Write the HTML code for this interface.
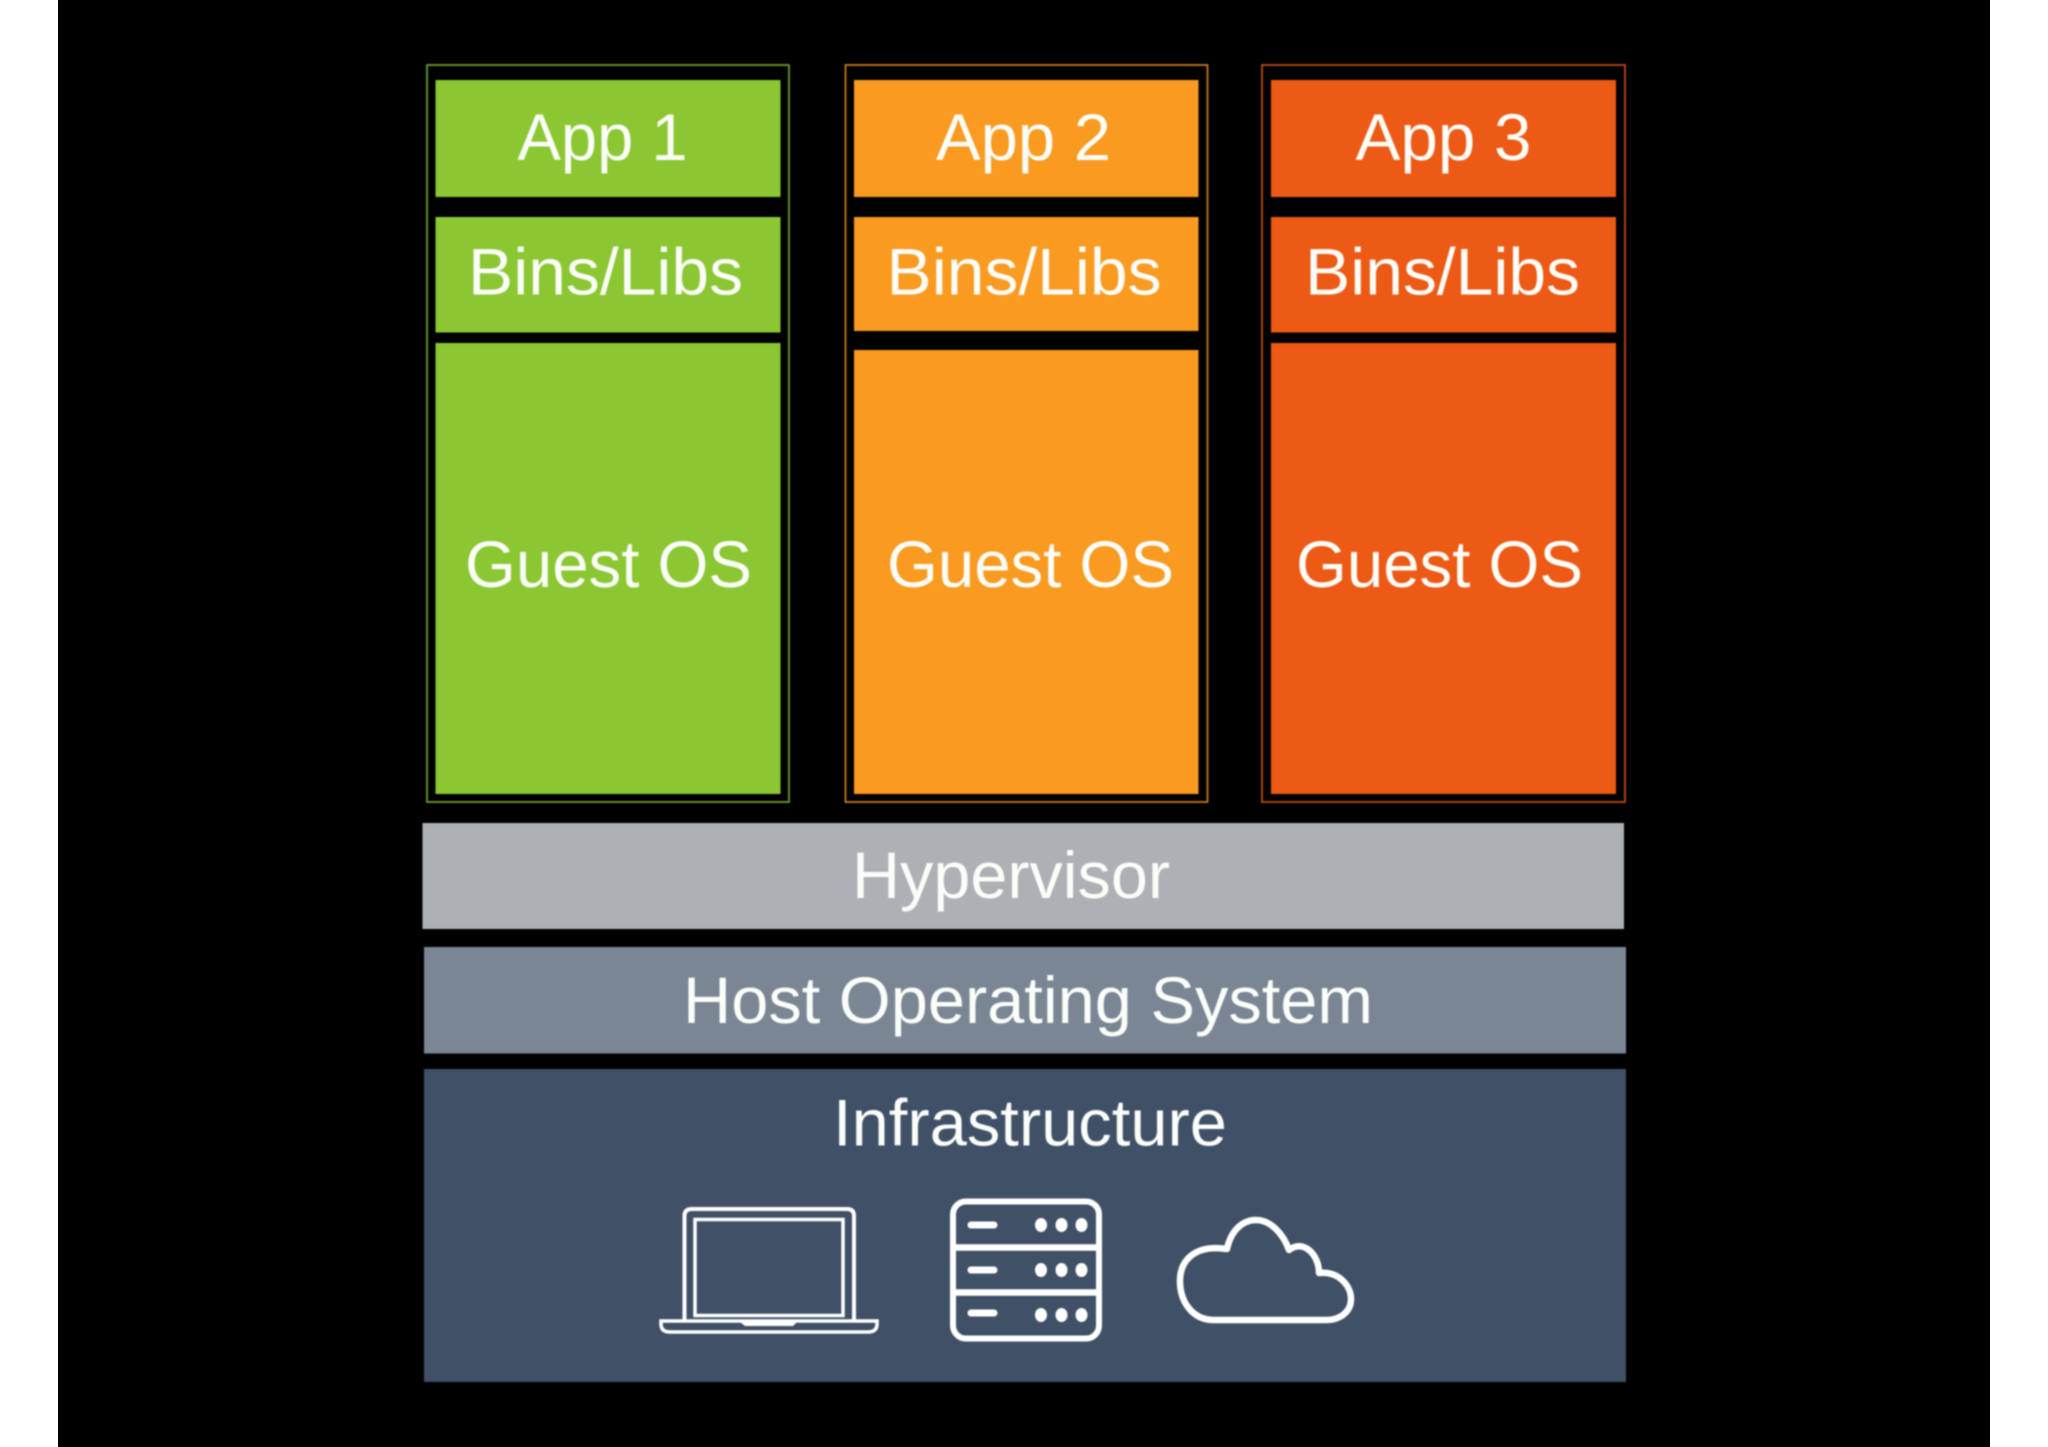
<!DOCTYPE html>
<html><head><meta charset="utf-8"><style>
html,body{margin:0;padding:0;background:#fff;width:2048px;height:1447px;overflow:hidden}
svg{display:block;position:absolute;left:0;top:0}
text{font-family:"Liberation Sans",sans-serif;fill:#fbfdf8;font-size:66px}
</style></head><body>
<svg width="2048" height="1447" viewBox="0 0 2048 1447" xmlns="http://www.w3.org/2000/svg">
<rect width="2048" height="1447" fill="#fff"/>
<rect x="58" y="0" width="1932" height="1447" fill="#000"/>
<g style="filter:blur(0.8px)">
<g fill="none" stroke-width="1.8">
<rect x="427" y="65" width="362" height="737" stroke="#6c9c2c"/>
<rect x="845.5" y="65" width="362" height="737" stroke="#c47a1c"/>
<rect x="1262" y="65" width="363" height="737" stroke="#bb4a14"/>
</g>
<g fill="#8ac732">
<rect x="435.5" y="80" width="345" height="117"/>
<rect x="435.5" y="217" width="345" height="115.5"/>
<rect x="435.5" y="343" width="345" height="451"/>
</g>
<g fill="#f99a21">
<rect x="854" y="80" width="344.5" height="117"/>
<rect x="854" y="217" width="344.5" height="114"/>
<rect x="854" y="350" width="344.5" height="444"/>
</g>
<g fill="#ec5a15">
<rect x="1271" y="80" width="345" height="117"/>
<rect x="1271" y="217" width="345" height="115.500"/>
<rect x="1271" y="343" width="345" height="451"/>
</g>
<rect x="422.500" y="823" width="1201.500" height="106" fill="#adb1b5"/>
<rect x="424" y="947" width="1202" height="106.500" fill="#7a8694"/>
<rect x="424" y="1069" width="1202" height="313" fill="#3f5067"/>

<text x="517.5" y="160" textLength="170" lengthAdjust="spacingAndGlyphs">App 1</text>
<text x="936" y="160" textLength="175" lengthAdjust="spacingAndGlyphs">App 2</text>
<text x="1355.500" y="160" textLength="176" lengthAdjust="spacingAndGlyphs">App 3</text>
<text x="468" y="294.500" textLength="275" lengthAdjust="spacingAndGlyphs">Bins/Libs</text>
<text x="886.500" y="294.500" textLength="275" lengthAdjust="spacingAndGlyphs">Bins/Libs</text>
<text x="1305" y="294.500" textLength="275" lengthAdjust="spacingAndGlyphs">Bins/Libs</text>
<text x="465" y="587" textLength="287" lengthAdjust="spacingAndGlyphs">Guest OS</text>
<text x="887" y="587" textLength="287" lengthAdjust="spacingAndGlyphs">Guest OS</text>
<text x="1296" y="587" textLength="287" lengthAdjust="spacingAndGlyphs">Guest OS</text>
<text x="852" y="898" textLength="318" lengthAdjust="spacingAndGlyphs">Hypervisor</text>
<text x="683" y="1023" textLength="690" lengthAdjust="spacingAndGlyphs">Host Operating System</text>
<text x="833" y="1145.500" textLength="394" lengthAdjust="spacingAndGlyphs">Infrastructure</text>

<g fill="none" stroke="#fff">
<!-- laptop -->
<path d="M684.500 1320V1216q0-7 7-7H847q7 0 7 7V1320" stroke-width="4"/>
<rect x="695" y="1219.500" width="148" height="96" stroke-width="3.500"/>
<path d="M661 1321H877V1324q0 8-9 8H670q-9 0-9-8Z" stroke-width="3.500"/>
<path d="M740 1322H797L793 1326H745Z" fill="#fff" stroke="none"/>
<!-- server -->
<rect x="953" y="1201.500" width="146" height="137" rx="13" stroke-width="6"/>
<path d="M953 1247.500H1099M953 1292.500H1099" stroke-width="6.500"/>
<path d="M971 1225H994M971 1270H994M971 1313H994" stroke-width="7" stroke-linecap="round"/>
<!-- cloud -->
<path d="M1214 1320C1191 1320 1180 1300 1180 1281C1180 1261 1194 1244 1227 1249C1231 1230 1243 1220 1256 1220C1270 1220 1283 1233 1289 1250C1303 1239 1319 1254 1319 1273C1339 1271 1351 1286 1351 1299C1351 1312 1340 1320 1326 1320Z" stroke-width="6.500" stroke-linejoin="round"/>
</g>
<g fill="#fff">
<ellipse cx="1041" cy="1225" rx="6" ry="7"/><ellipse cx="1061.500" cy="1225" rx="6" ry="7"/><ellipse cx="1081.500" cy="1225" rx="6" ry="7"/>
<ellipse cx="1041" cy="1270" rx="6" ry="7"/><ellipse cx="1061.500" cy="1270" rx="6" ry="7"/><ellipse cx="1081.500" cy="1270" rx="6" ry="7"/>
<ellipse cx="1041" cy="1315" rx="6" ry="7"/><ellipse cx="1061.500" cy="1315" rx="6" ry="7"/><ellipse cx="1081.500" cy="1315" rx="6" ry="7"/>
</g>
</g>
</svg>
</body></html>
